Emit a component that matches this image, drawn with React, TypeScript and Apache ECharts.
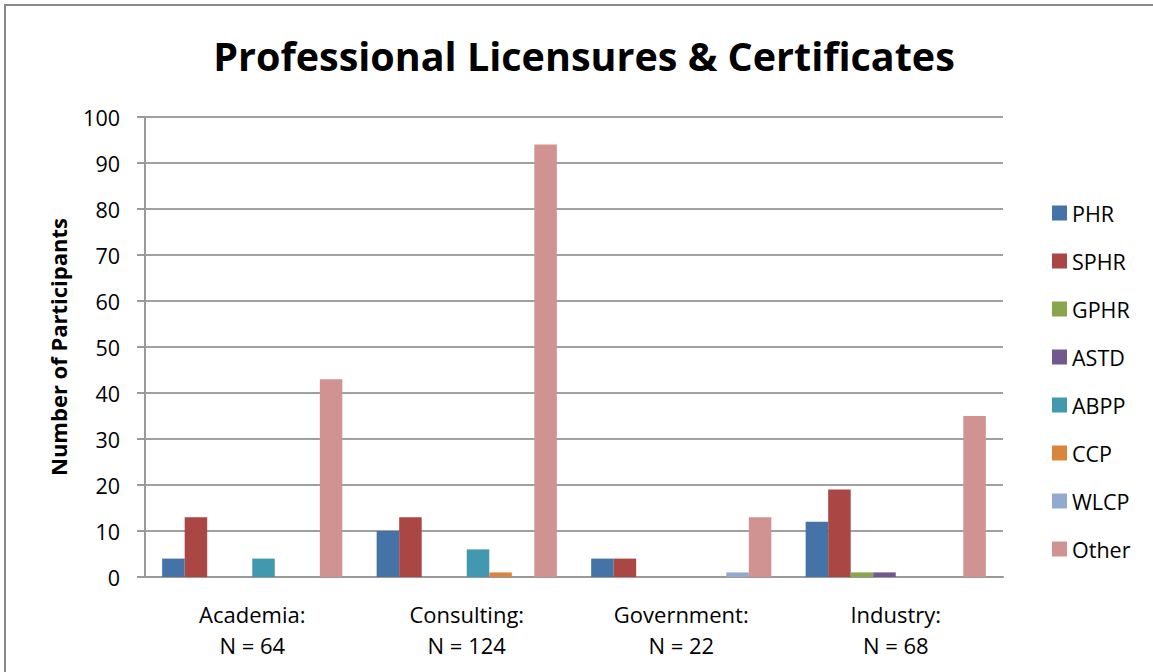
import React, { useEffect, useRef } from "react";
import * as echarts from "echarts";

const categories = ["Academia:\nN = 64", "Consulting:\nN = 124", "Government:\nN = 22", "Industry:\nN = 68"];
const seriesNames = ["PHR", "SPHR", "GPHR", "ASTD", "ABPP", "CCP", "WLCP", "Other"];
const phr = [4, 10, 4, 12];
const sphr = [13, 13, 4, 19];
const gphr = [0, 0, 0, 1];
const astd = [0, 0, 0, 1];
const abpp = [4, 6, 0, 0];
const ccp = [0, 1, 0, 0];
const wlcp = [0, 0, 1, 0];
const other = [43, 94, 13, 35];
const yTicks = [0, 10, 20, 30, 40, 50, 60, 70, 80, 90, 100];
const colors = ["#4572A7", "#AA4643", "#89A54E", "#71588F", "#4198AF", "#DB843D", "#93A9CF", "#D19392"];

const FONT = "Open Sans";

export default function App() {
  const ref = useRef<HTMLDivElement>(null);
  useEffect(() => {
    if (!ref.current) return;
    const chart = echarts.init(ref.current, null, { renderer: "svg" });
    const values = [phr, sphr, gphr, astd, abpp, ccp, wlcp, other];
    chart.setOption({
      animation: false,
      backgroundColor: "#ffffff",
      color: colors,
      title: {
        text: "Professional Licensures & Certificates",
        left: 579,
        top: 31,
        textAlign: "center",
        textStyle: { fontFamily: FONT, fontSize: 39.5, fontWeight: "bold", color: "#000" },
      },
      legend: {
        orient: "vertical",
        left: 1047,
        top: 197,
        itemWidth: 15,
        itemHeight: 15,
        itemGap: 26,
        icon: "rect",
        textStyle: { fontFamily: FONT, fontSize: 21.5, color: "#000" },
        data: seriesNames,
      },
      grid: { left: 145, top: 117, right: 150, bottom: 95, containLabel: false },
      xAxis: {
        type: "category",
        data: categories,
        axisTick: { show: false },
        axisLine: { lineStyle: { color: "#999", width: 2 } },
        axisLabel: { fontFamily: FONT, fontSize: 22, color: "#000", margin: 21, lineHeight: 31 },
      },
      yAxis: {
        type: "value",
        min: yTicks[0],
        max: yTicks[yTicks.length - 1],
        interval: 10,
        name: "Number of Participants",
        nameLocation: "middle",
        nameGap: 76,
        nameTextStyle: { fontFamily: FONT, fontSize: 22, fontWeight: "bold", color: "#000" },
        axisLine: { show: true, lineStyle: { color: "#999", width: 2 } },
        axisTick: { show: true, inside: false, length: 8, lineStyle: { color: "#999", width: 2 } },
        axisLabel: { fontFamily: FONT, fontSize: 21.5, color: "#000", margin: 25 },
        splitLine: { lineStyle: { color: "#A0A0A0", width: 2 } },
      },
      series: seriesNames.map((name, i) => ({
        name,
        type: "bar",
        data: values[i],
        barGap: "0%",
        barCategoryGap: "16%",
        itemStyle: { color: colors[i] },
      })),
      graphic: [
        {
          type: "rect",
          shape: { x: 5, y: 5, width: 1160, height: 700 },
          style: { fill: "none", stroke: "#888", lineWidth: 2 },
          silent: true,
        },
      ],
    });
    return () => chart.dispose();
  }, []);
  return (
    <div
      ref={ref}
      style={{ position: "fixed", left: 0, top: 0, width: 1153, height: 672 }}
    />
  );
}
